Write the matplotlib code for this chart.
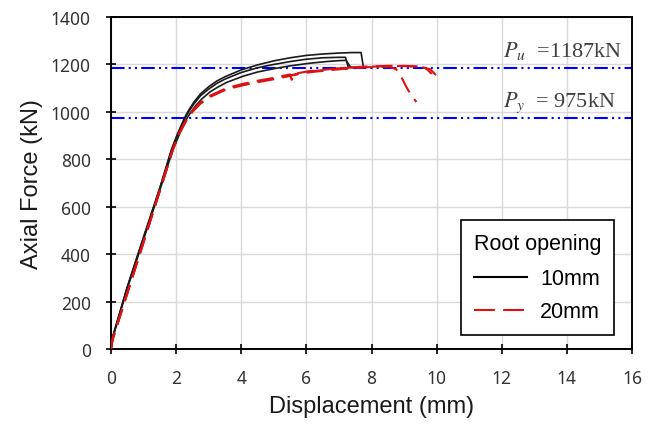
import matplotlib
matplotlib.use("Agg")
import matplotlib.pyplot as plt
import numpy as np

# ---- data ----
black1_x = [0, 0.05, 0.5, 1.0, 1.5, 1.86, 2.05, 2.27, 2.4, 2.55, 2.75, 3.0, 3.25, 3.5, 4.0, 4.5, 5.0, 5.5, 6.0, 6.5, 7.0, 7.4, 7.68, 7.75]
black1_y = [0, 50, 262, 472, 680, 842, 910, 978, 1010, 1042, 1076, 1106, 1130, 1148, 1177, 1198, 1215, 1228, 1238, 1244, 1248, 1250, 1250, 1190]
black2_x = [0, 0.05, 0.5, 1.0, 1.5, 1.86, 2.05, 2.27, 2.4, 2.55, 2.75, 3.0, 3.25, 3.5, 4.0, 4.5, 5.0, 5.5, 6.0, 6.5, 7.0, 7.2, 7.28]
black2_y = [0, 50, 260, 470, 678, 840, 905, 972, 1004, 1034, 1068, 1096, 1120, 1138, 1166, 1186, 1200, 1212, 1222, 1228, 1230, 1230, 1192]
black3_x = [0, 0.05, 0.5, 1.0, 1.5, 1.9, 2.1, 2.3, 2.45, 2.6, 2.8, 3.05, 3.3, 3.55, 4.05, 4.5, 5.0, 5.5, 6.1, 6.6, 7.0, 7.22, 7.35]
black3_y = [0, 45, 255, 462, 670, 840, 905, 965, 998, 1026, 1056, 1085, 1106, 1124, 1150, 1168, 1182, 1194, 1205, 1212, 1216, 1217, 1190]

red1_x = [0, 0.05, 1.0, 1.9, 2.1, 2.36, 2.5, 2.75, 3.04, 3.55, 4.05, 4.5, 5.1, 5.6, 6.1, 6.8, 7.3, 7.85, 8.3, 8.56, 8.75, 8.87, 9.07, 9.23, 9.38]
red1_y = [0, 40, 450, 840, 910, 975, 1000, 1035, 1063, 1095, 1112, 1125, 1140, 1155, 1167, 1177, 1183, 1188, 1190, 1190, 1180, 1160, 1105, 1067, 1042]
red2_x = [0, 0.05, 1.0, 1.9, 2.1, 2.36, 2.5, 2.75, 3.04, 3.55, 4.05, 4.5, 5.1, 5.5, 5.55, 5.6, 6.1, 6.8, 7.3, 7.85, 8.5, 9.0, 9.5, 9.8, 10.0]
red2_y = [0, 42, 452, 842, 912, 978, 1004, 1040, 1068, 1100, 1118, 1131, 1146, 1158, 1135, 1160, 1172, 1181, 1186, 1190, 1193, 1193, 1190, 1180, 1152]
red3_x = [0, 0.05, 1.0, 1.9, 2.1, 2.36, 2.5, 2.75, 3.04, 3.55, 4.05, 4.5, 5.1, 5.6, 6.1, 6.8, 7.2, 7.25, 7.3, 7.85, 8.5, 9.0, 9.4, 9.7, 9.85]
red3_y = [0, 41, 451, 841, 911, 976, 1002, 1037, 1065, 1098, 1115, 1128, 1143, 1157, 1170, 1180, 1186, 1170, 1187, 1191, 1194, 1194, 1192, 1180, 1160]

Pu = 1187
Py = 975
x_ticks = [0, 2, 4, 6, 8, 10, 12, 14, 16]
y_ticks = [0, 200, 400, 600, 800, 1000, 1200, 1400]

plt.rcParams['mathtext.fontset'] = 'stix'

fig = plt.figure(figsize=(6.59, 4.27), dpi=100)
ax = fig.add_axes([111/659, 1-350/427, (632-111)/659, (350-18)/427])

ax.grid(True, color='#d9d9d9', linewidth=1.0, zorder=0)
ax.set_axisbelow(True)

blue_dash = (0, (6.5, 2.0, 1.0, 2.0, 1.0, 2.0))
ax.axhline(Pu, color='#0000ff', linewidth=1.5, linestyle=blue_dash, zorder=2)
ax.axhline(Py, color='#0000ff', linewidth=1.5, linestyle=blue_dash, zorder=2)

for xs, ys in [(black1_x, black1_y), (black2_x, black2_y), (black3_x, black3_y)]:
    ax.plot(xs, ys, color='#1a1a1a', linewidth=1.2, zorder=3)
for xs, ys in [(red1_x, red1_y), (red2_x, red2_y), (red3_x, red3_y)]:
    ax.plot(xs, ys, color='#dd1111', linewidth=1.5, linestyle=(0, (8, 4)), zorder=4)

# legend proxies
hb, = ax.plot([], [], color='black', linewidth=1.5, label='10mm')
hr, = ax.plot([], [], color='#dd1111', linewidth=1.5, linestyle=(0, (10, 4)), label='20mm')
leg = ax.legend(handles=[hb, hr], title='Root opening', loc='lower right',
                bbox_to_anchor=(614/659, 1-336/427), bbox_transform=fig.transFigure,
                fancybox=False, edgecolor='black', framealpha=1,
                prop={'family': 'Liberation Sans', 'size': 15.5},
                title_fontproperties={'family': 'Liberation Sans', 'size': 15.5},
                handlelength=2.5, borderpad=0.6, labelspacing=0.55, handletextpad=0.6,
                borderaxespad=0)
leg.get_frame().set_linewidth(1.2)
leg._legend_box.align = 'left'
leg._legend_box.sep = 10

ax.text(12.04, Pu + 50, r'$P_u$' + '  =1187kN', fontsize=16, family='Liberation Serif',
        color='#404040', ha='left', va='baseline')
ax.text(12.04, Py + 50, r'$P_y$' + '  = 975kN', fontsize=16, family='Liberation Serif',
        color='#404040', ha='left', va='baseline')

ax.set_xlim(0, 16)
ax.set_ylim(0, 1400)
ax.set_xticks(x_ticks)
ax.set_yticks(y_ticks)
ax.tick_params(direction='inout', length=7, width=1.2, labelsize=12.5, pad=11, colors='black')
for lab in ax.get_xticklabels() + ax.get_yticklabels():
    lab.set_family('Noto Sans')
    lab.set_color('#333333')
for s in ax.spines.values():
    s.set_linewidth(1.4)

ax.set_xlabel('Displacement (mm)', family='Liberation Sans', fontsize=17, color='#1a1a1a', labelpad=6)
ax.set_ylabel('Axial Force (kN)', family='Liberation Sans', fontsize=17, color='#1a1a1a', labelpad=6)

fig.savefig('out.png', dpi=100)
